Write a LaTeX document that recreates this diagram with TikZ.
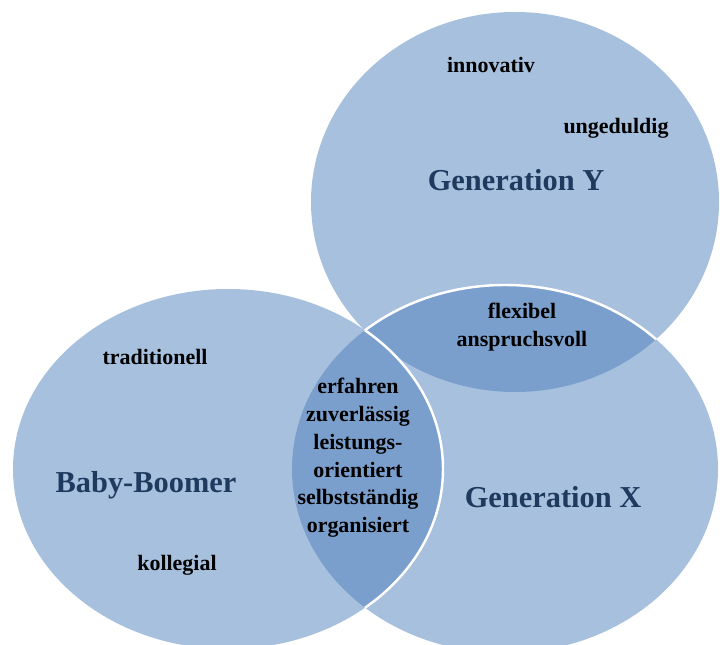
\documentclass[tikz,border=0pt]{standalone}
\usepackage{fontspec}
\setmainfont{Liberation Serif}
\usepackage{xcolor}

\definecolor{venn}{HTML}{A7C0DE}
\definecolor{vennlap}{HTML}{7A9FCC}
\definecolor{gentitle}{HTML}{1F3A5F}

\begin{document}
\begin{tikzpicture}[x=0.02cm, y=0.02cm,
    trait/.style={font=\bfseries\fontsize{12.5}{15.8}\selectfont, text=black, align=center, inner sep=0pt},
    gen/.style={font=\bfseries\fontsize{17.3}{20}\selectfont, text=gentitle, inner sep=0pt}]
    \useasboundingbox (0,0) rectangle (720,645);
    \clip (0,0) rectangle (720,645);

    % Centres of the three generations
    \coordinate (cY) at (515,443);
    \coordinate (cX) at (505,176);
    \coordinate (cB) at (228,176);

    % Plain discs first
    \fill[venn] (cY) ellipse [x radius=204, y radius=190];
    \fill[venn] (cX) ellipse [x radius=213, y radius=184];
    \fill[venn] (cB) ellipse [x radius=215, y radius=180];

    % Overlap Y / X, with the white rim of X on top
    \begin{scope}
        \clip (cY) ellipse [x radius=204, y radius=190];
        \fill[vennlap] (cX) ellipse [x radius=213, y radius=184];
        \draw[white, line width=1.4pt] (cX) ellipse [x radius=213, y radius=184];
    \end{scope}

    % Overlap X / Boomer, with the white rim of the Boomer disc
    \begin{scope}
        \clip (cX) ellipse [x radius=213, y radius=184];
        \fill[vennlap] (cB) ellipse [x radius=215, y radius=180];
        \draw[white, line width=1.4pt] (cB) ellipse [x radius=215, y radius=180];
    \end{scope}

    % Generation names
    \node[gen] (genY) at (516,465) {Generation Y};
    \node[gen] (genX) at (553,148) {Generation X};
    \node[gen] (boomer) at (146,160) {Baby-Boomer};

    % Traits
    \node[trait] (innovativ) at (491,580) {innovativ};
    \node[trait] (ungeduldig) at (616,517) {ungeduldig};
    \node[trait] (flexibel) at (522,318) {flexibel\\anspruchsvoll};
    \node[trait] (erfahren) at (358,187) {erfahren\\zuverlässig\\leistungs-\\orientiert\\selbstständig\\organisiert};
    \node[trait] (traditionell) at (155,288) {traditionell};
    \node[trait] (kollegial) at (177,80) {kollegial};
\end{tikzpicture}
\end{document}
